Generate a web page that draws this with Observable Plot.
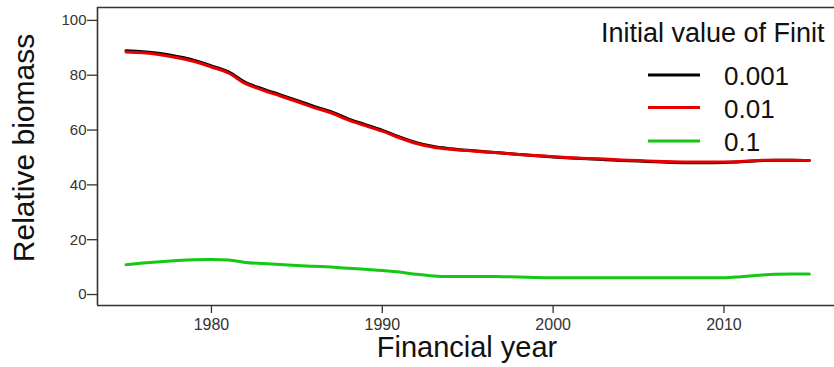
<!DOCTYPE html>
<html>
<head>
<meta charset="utf-8">
<script src="https://cdn.jsdelivr.net/npm/d3@7"></script>
<script src="https://cdn.jsdelivr.net/npm/@observablehq/plot@0.6"></script>
<style>
  html, body { margin: 0; padding: 0; background: #fff; }
  #wrap { position: relative; width: 834px; height: 367px; overflow: hidden; }
  #wrap svg { position: absolute; left: 0; top: 0; }
</style>
</head>
<body>
<div id="wrap"></div>
<script>
const years = [1975,1976,1977,1978,1979,1980,1981,1982,1983,1984,1985,1986,1987,1988,1989,1990,
  1991,1992,1993,1994,1995,1996,1997,1998,1999,2000,2001,2002,2003,2004,2005,2006,2007,2008,2009,2010,
  2011,2012,2013,2014,2015];
const seriesNames = ["0.001", "0.01", "0.1"];
const seriesColors = ["#000000", "#e80000", "#14c814"];
const finit0001 = [88.9,88.6,87.9,86.8,85.4,83.4,81.2,77.3,75.0,72.9,70.8,68.6,66.7,64.1,62.0,59.9,
  57.5,55.4,54.0,53.2,52.6,52.1,51.6,51.1,50.6,50.2,49.8,49.5,49.2,48.9,48.7,48.4,48.2,48.1,48.1,48.2,
  48.4,48.8,49.0,49.0,48.9];
const finit001 = [88.5,88.2,87.5,86.4,85.0,83.0,80.8,76.9,74.6,72.5,70.4,68.2,66.3,63.7,61.6,59.6,
  57.2,55.1,53.7,53.0,52.5,52.0,51.6,51.1,50.7,50.3,49.9,49.6,49.4,49.1,48.9,48.6,48.4,48.3,48.3,48.3,
  48.5,48.9,49.0,49.0,48.9];
const finit01 = [10.9,11.5,12.0,12.4,12.7,12.8,12.6,11.7,11.3,11.0,10.6,10.3,10.0,9.6,9.2,8.8,
  8.2,7.4,6.8,6.6,6.6,6.6,6.5,6.4,6.2,6.1,6.1,6.1,6.1,6.1,6.1,6.1,6.1,6.1,6.1,6.1,
  6.5,7.0,7.4,7.5,7.5];
const xTicks = [1980, 1990, 2000, 2010];
const yTicks = [0, 20, 40, 60, 80, 100];
const xTitle = "Financial year";
const yTitle = "Relative biomass";
const legendTitle = "Initial value of Finit";

const seriesValues = [finit0001, finit001, finit01];
const data = [];
seriesNames.forEach((s, i) => years.forEach((yr, j) => data.push({series: s, year: yr, value: seriesValues[i][j]})));

const xDomain = [1973.33, 2016.47];
const yDomain = [-4, 104.7];
const axisColor = "#333";

const chart = Plot.plot({
  width: 834,
  height: 367,
  marginLeft: 97,
  marginRight: 0,
  marginTop: 7,
  marginBottom: 62,
  style: {fontFamily: "'Liberation Sans', Arial, sans-serif", background: "transparent"},
  x: {domain: xDomain},
  y: {domain: yDomain},
  color: {domain: seriesNames, range: seriesColors},
  marks: [
    Plot.axisY({ticks: yTicks, tickSize: 10, tickPadding: 1, fontSize: 15, color: axisColor, strokeWidth: 1.3, label: null}),
    Plot.axisX({ticks: xTicks, tickSize: 8, tickPadding: 5, fontSize: 16, color: axisColor, strokeWidth: 1.3, tickFormat: d => String(d), label: null}),
    Plot.ruleX([xDomain[0]], {stroke: axisColor, strokeWidth: 1.6}),
    Plot.ruleY([yDomain[0], yDomain[1]], {stroke: axisColor, strokeWidth: 1.6}),
    Plot.line(data, {x: "year", y: "value", z: "series", stroke: "series", strokeWidth: 3, curve: "monotone-x"}),
    Plot.text([xTitle], {frameAnchor: "bottom", lineAnchor: "bottom", textAnchor: "middle", dx: 1, dy: 51, fontSize: 29, fill: "#111"}),
    Plot.text([yTitle], {frameAnchor: "left", lineAnchor: "bottom", textAnchor: "middle", rotate: -90, dx: -64, dy: -8.5, fontSize: 30, fill: "#111"})
  ]
});
const wrap = document.getElementById("wrap");
wrap.appendChild(chart);

// Legend (inside plot area, top right)
const leg = d3.create("svg").attr("width", 834).attr("height", 367)
  .style("font-family", "'Liberation Sans', Arial, sans-serif").style("pointer-events", "none");
leg.append("text").attr("x", 601).attr("y", 42).attr("font-size", 27).attr("fill", "#111").text(legendTitle);
const rowY = [75, 107.5, 141];
seriesNames.forEach((s, i) => {
  leg.append("line").attr("x1", 648).attr("x2", 700).attr("y1", rowY[i]).attr("y2", rowY[i])
    .attr("stroke", seriesColors[i]).attr("stroke-width", 3);
  leg.append("text").attr("x", 724).attr("y", rowY[i] + 10).attr("font-size", 26).attr("fill", "#111").text(s);
});
wrap.appendChild(leg.node());
</script>
</body>
</html>
